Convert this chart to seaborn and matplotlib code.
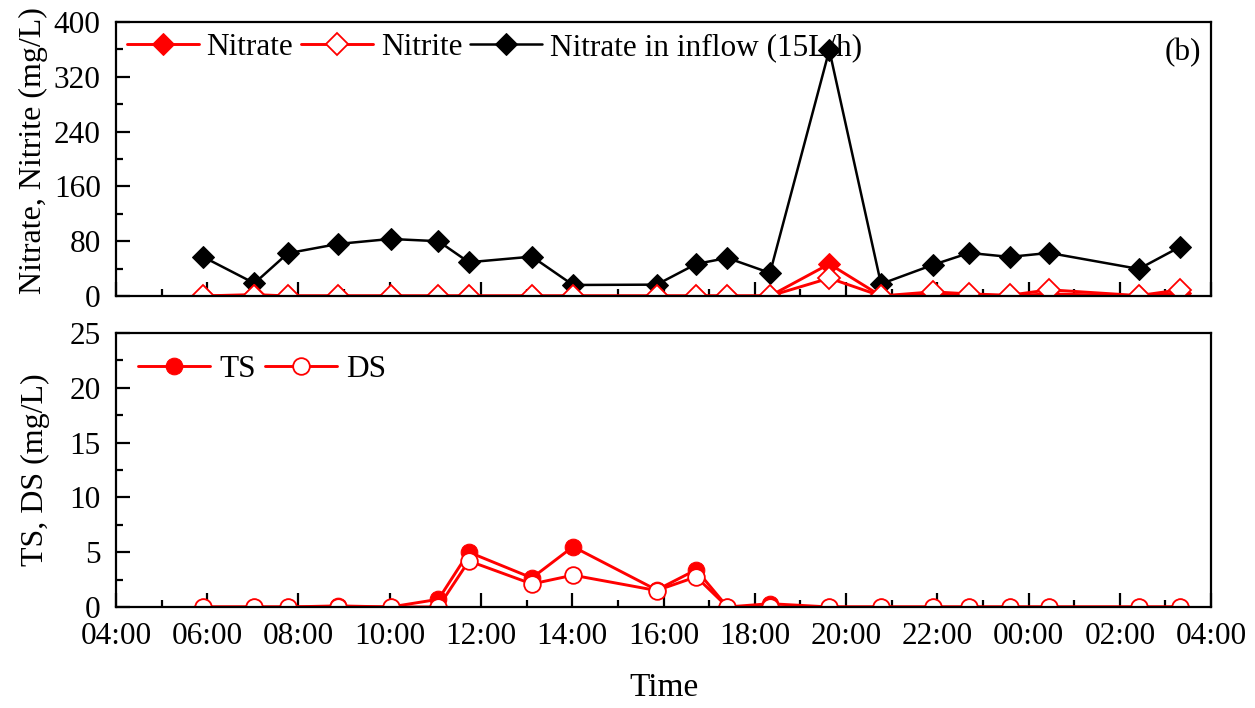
import matplotlib
matplotlib.use("Agg")
import matplotlib.pyplot as plt
import matplotlib.dates as mdates
from matplotlib.ticker import MultipleLocator
import pandas as pd
import seaborn as sns

# Sampling times (run starts 04:00, ends 04:00 next day)
sample_times = [
    "2000-01-01 05:54", "2000-01-01 07:02", "2000-01-01 07:46", "2000-01-01 08:52",
    "2000-01-01 10:01", "2000-01-01 11:04", "2000-01-01 11:44", "2000-01-01 13:07",
    "2000-01-01 14:01", "2000-01-01 15:51", "2000-01-01 16:43", "2000-01-01 17:24",
    "2000-01-01 18:20", "2000-01-01 19:38", "2000-01-01 20:46", "2000-01-01 21:54",
    "2000-01-01 22:42", "2000-01-01 23:35", "2000-01-02 00:27", "2000-01-02 02:25",
    "2000-01-02 03:19",
]

# Upper panel (mg/L)
nitrate_inflow = [57.4, 18.5, 62.3, 75.9, 83.2, 79.9, 49.2, 57.4, 16.0, 16.5, 46.7,
                  55.5, 33.6, 359.0, 17.5, 45.3, 62.8, 57.0, 62.8, 39.4, 71.5]
nitrate = [0, 2, 0, 0, 0, 0, 0, 0, 0, 0, 0,
           0, 0, 46.7, 0, 3, 2, 0, 3, 0, 4]
nitrite = [0, 0, 0, 0, 0, 0, 0, 0, 0, 0, 0,
           0, 0, 26.0, 0, 6, 3, 1, 9, 0.5, 9]

# Lower panel (mg/L)
ts = [0, 0, 0, 0.1, 0, 0.7, 5.0, 2.65, 5.5, 1.55, 3.4,
      0, 0.3, 0, 0, 0, 0, 0, 0, 0, 0]
ds = [0, 0, 0, 0, 0, 0, 4.2, 2.1, 2.9, 1.5, 2.75,
      0, 0, 0, 0, 0, 0, 0, 0, 0, 0]

df = pd.DataFrame({
    "time": pd.to_datetime(sample_times),
    "inflow": nitrate_inflow,
    "nitrate": nitrate,
    "nitrite": nitrite,
    "ts": ts,
    "ds": ds,
})

sns.set_theme(style="ticks")
plt.rcParams["font.family"] = ["Liberation Serif", "DejaVu Serif"]
plt.rcParams.update({
    "axes.linewidth": 1.6,
    "axes.edgecolor": "black",
    "xtick.direction": "in",
    "ytick.direction": "in",
    "xtick.color": "black",
    "ytick.color": "black",
    "text.color": "black",
    "axes.labelcolor": "black",
})

FS = 22.5
RED = "#ff0000"

fig = plt.figure(figsize=(12.55, 7.08), dpi=100)
ax1 = fig.add_axes([0.0924, 0.582, 0.8726, 0.387])
ax2 = fig.add_axes([0.0924, 0.1427, 0.8726, 0.387])

# Upper panel
sns.lineplot(data=df, x="time", y="inflow", ax=ax1, color="black", linewidth=1.8,
             marker="D", markersize=11, markerfacecolor="black",
             markeredgecolor="black", label="Nitrate in inflow (15L/h)")
sns.lineplot(data=df, x="time", y="nitrate", ax=ax1, color=RED, linewidth=2.1,
             marker="D", markersize=11, markerfacecolor=RED,
             markeredgecolor=RED, label="Nitrate")
sns.lineplot(data=df, x="time", y="nitrite", ax=ax1, color=RED, linewidth=2.1,
             marker="D", markersize=11, markerfacecolor="white",
             markeredgecolor=RED, markeredgewidth=1.3, label="Nitrite")

# Lower panel
sns.lineplot(data=df, x="time", y="ts", ax=ax2, color=RED, linewidth=2.1,
             marker="o", markersize=12, markerfacecolor=RED,
             markeredgecolor=RED, label="TS")
sns.lineplot(data=df, x="time", y="ds", ax=ax2, color=RED, linewidth=2.1,
             marker="o", markersize=12, markerfacecolor="white",
             markeredgecolor=RED, markeredgewidth=1.3, label="DS")

t0 = pd.Timestamp("2000-01-01 04:00")
t1 = pd.Timestamp("2000-01-02 04:00")

for ax in (ax1, ax2):
    ax.set_xlim(t0, t1)
    ax.xaxis.set_major_locator(mdates.HourLocator(byhour=range(0, 24, 2)))
    ax.xaxis.set_minor_locator(mdates.HourLocator())
    ax.xaxis.set_major_formatter(mdates.DateFormatter("%H:%M"))
    ax.tick_params(axis="both", which="major", length=10, width=1.6,
                   labelsize=FS, top=False, right=False)
    ax.tick_params(axis="x", which="major", pad=11)
    ax.tick_params(axis="y", which="major", pad=11)
    ax.tick_params(axis="both", which="minor", length=5, width=1.6,
                   top=False, right=False)
    for s in ax.spines.values():
        s.set_visible(True)
        s.set_color("black")
        s.set_linewidth(1.6)
    ax.set_facecolor("white")

ax1.set_ylim(0, 400)
ax1.yaxis.set_major_locator(MultipleLocator(80))
ax1.yaxis.set_minor_locator(MultipleLocator(40))
ax1.tick_params(axis="x", which="both", labelbottom=False)
ax1.set_xlabel("")
ax1.set_ylabel("Nitrate, Nitrite (mg/L)", fontsize=23)
ax1.yaxis.set_label_coords(-0.062, 0.53)
ax1.text(0.974, 0.89, "(b)", transform=ax1.transAxes, fontsize=FS,
         ha="center", va="center")

h, l = ax1.get_legend_handles_labels()
order = [l.index("Nitrate"), l.index("Nitrite"), l.index("Nitrate in inflow (15L/h)")]
ax1.legend([h[i] for i in order], [l[i] for i in order], loc="upper left",
           ncol=3, frameon=False, fontsize=FS, handlelength=2.3,
           handletextpad=0.25, columnspacing=0.25, borderaxespad=0.2,
           borderpad=0.15)

ax2.set_ylim(0, 25)
ax2.yaxis.set_major_locator(MultipleLocator(5))
ax2.yaxis.set_minor_locator(MultipleLocator(2.5))
ax2.set_ylabel("TS, DS (mg/L)", fontsize=23)
ax2.yaxis.set_label_coords(-0.060, 0.5)
ax2.set_xlabel("Time", fontsize=24, labelpad=15)
ax2.legend(loc="upper left", ncol=2, frameon=False, fontsize=FS,
           handlelength=2.3, handletextpad=0.3, columnspacing=0.3,
           borderaxespad=0.3, borderpad=0.4)

fig.savefig("out.png", dpi=100, facecolor="white")
